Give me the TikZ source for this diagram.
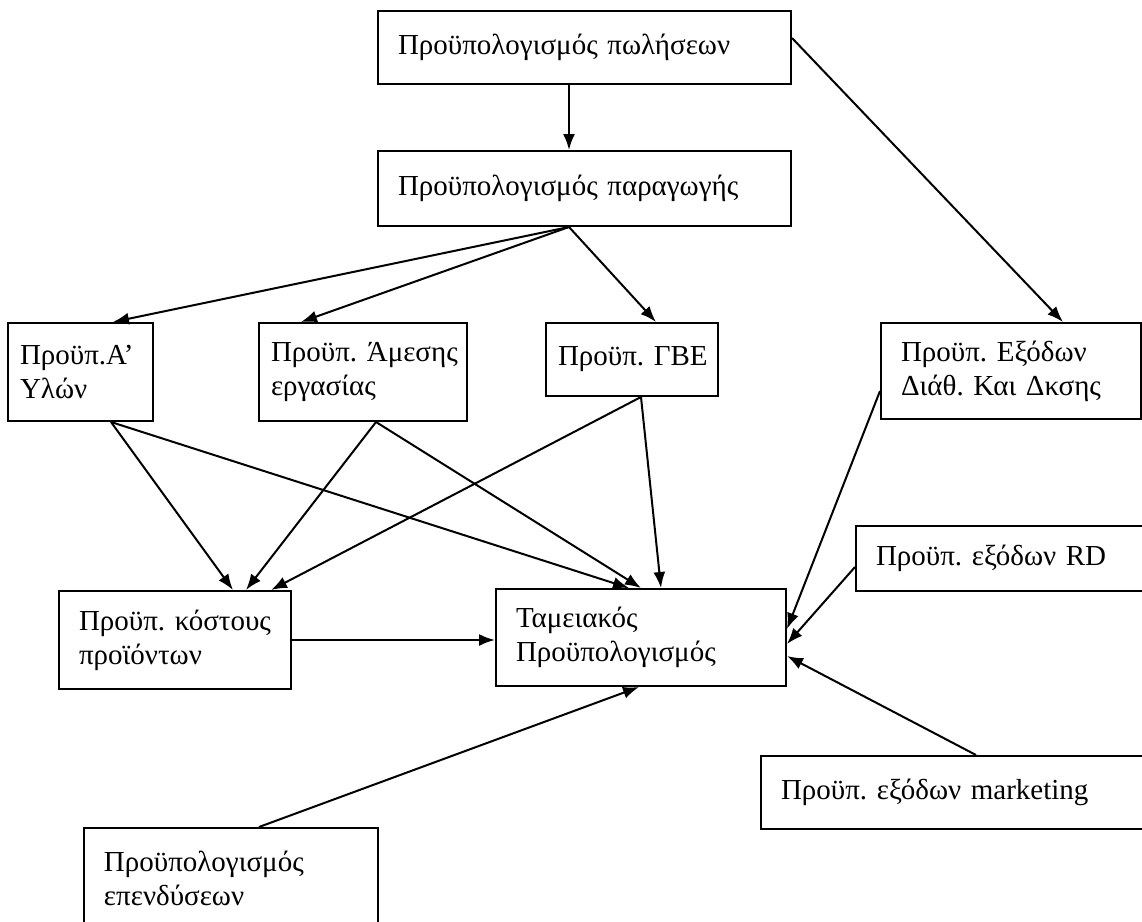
\documentclass[tikz,border=0pt]{standalone}
\usepackage{fontspec}
\setmainfont{Liberation Serif}
\usetikzlibrary{arrows.meta}

\begin{document}
\begin{tikzpicture}[x=0.5pt,y=-0.5pt,
  box/.style={draw, line width=1pt, anchor=north west, align=left, inner xsep=10pt, inner ysep=2pt, font=\fontsize{14.5}{17}\selectfont},
  arr/.style={line width=1pt, -{Latex[length=8pt,width=6pt]}}]
  \useasboundingbox (0,0) rectangle (1142,922);
  \node [box, text width=186.5pt, minimum height=36.5pt] (sales) at (377,10) {Προϋπολογισμός~πωλήσεων};
  \node [box, text width=186.5pt, minimum height=37.5pt] (prod) at (377,150) {Προϋπολογισμός~παραγωγής};
  \node [box, inner xsep=6pt, text width=60.5pt, minimum height=49pt] (ylon) at (7,322) {Προϋπ.Α’\\Υλών};
  \node [box, inner xsep=6pt, text width=92pt, minimum height=49pt] (ergas) at (258,322) {Προϋπ.~Άμεσης\\εργασίας};
  \node [box, inner xsep=6pt, text width=74pt, minimum height=36.5pt] (gbe) at (545,322) {Προϋπ.~ΓΒΕ};
  \node [box, text width=110pt, minimum height=48pt] (diath) at (880,322) {Προϋπ.~Εξόδων\\Διάθ.~Και~Δκσης};
  \node [box, text width=130pt, minimum height=32.5pt] (rd) at (855,525) {Προϋπ.~εξόδων~RD};
  \node [box, text width=96pt, minimum height=49pt] (kostos) at (58,590) {Προϋπ.~κόστους\\προϊόντων};
  \node [box, text width=125pt, minimum height=48.5pt] (tamio) at (495,588) {Ταμειακός\\Προϋπολογισμός};
  \node [box, text width=180pt, minimum height=36.5pt] (mkt) at (760,755) {Προϋπ.~εξόδων~marketing};
  \node [box, text width=127pt, minimum height=50pt] (epend) at (83,827) {Προϋπολογισμός\\επενδύσεων};

  \coordinate (fan) at ([xshift=-7.75pt]prod.south);
  \draw [arr] ([xshift=-7.75pt]sales.south) -- ([xshift=-7.75pt]prod.north);
  \draw [arr] ([yshift=4.75pt]sales.east) -- ([xshift=26pt]diath.north);
  \draw [arr] (fan) -- ([xshift=16.25pt]ylon.north);
  \draw [arr] (fan) -- ([xshift=-31pt]ergas.north);
  \draw [arr] (fan) -- ([xshift=12pt]gbe.north);
  \draw [arr] ([xshift=15.25pt]ylon.south) -- ([xshift=29pt]kostos.north);
  \draw [arr] ([xshift=15.25pt]ylon.south) -- ([xshift=-6pt]tamio.north);
  \draw [arr] ([xshift=6.5pt]ergas.south) -- ([xshift=35.5pt]kostos.north);
  \draw [arr] ([xshift=6.5pt]ergas.south) -- (tamio.north);
  \draw [arr] ([xshift=4.5pt]gbe.south) -- ([xshift=48pt]kostos.north);
  \draw [arr] ([xshift=4.5pt]gbe.south) -- ([xshift=10pt]tamio.north);
  \draw [arr] (kostos.east) -- (kostos.east -| tamio.west);
  \draw [arr] ([yshift=-10pt]diath.west) -- ([yshift=4.25pt]tamio.east);
  \draw [arr] ([yshift=-4.25pt]rd.west) -- ([yshift=-3.25pt]tamio.east);
  \draw [arr] ([xshift=7.5pt]mkt.north) -- ([yshift=-9.25pt]tamio.east);
  \draw [arr] ([xshift=14pt]epend.north) -- ([xshift=-1pt]tamio.south);
\end{tikzpicture}
\end{document}
